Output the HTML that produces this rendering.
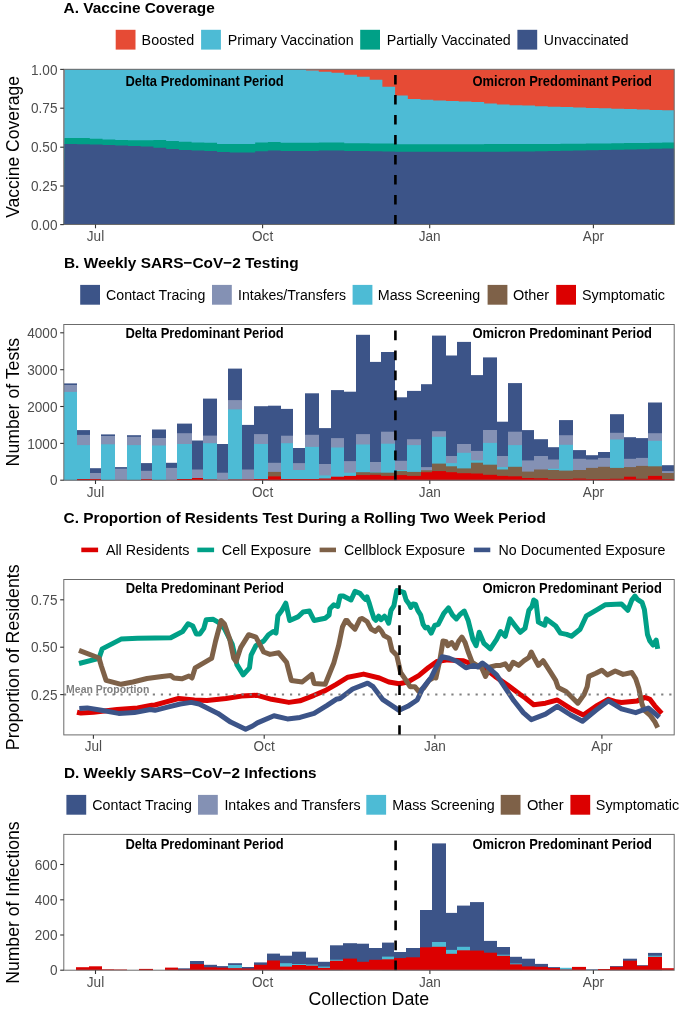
<!DOCTYPE html>
<html><head><meta charset="utf-8"><title>Figure</title>
<style>
html,body{margin:0;padding:0;background:#fff;}
body{width:685px;height:1016px;overflow:hidden;}
svg{display:block;will-change:transform;}
text{font-family:"Liberation Sans", sans-serif;}
</style></head><body>
<svg width="685" height="1016" viewBox="0 0 685 1016">
<rect x="0" y="0" width="685" height="1016" fill="#fff"/>
<text transform="translate(63.60 12.80) scale(1 1.0)" x="0" y="0" font-size="15.3" font-weight="bold" fill="#000" text-anchor="start" textLength="151.2" lengthAdjust="spacingAndGlyphs">A. Vaccine Coverage</text>
<rect x="115.70" y="29.80" width="19.80" height="19.80" fill="#E64B35"/>
<text transform="translate(141.60 45.00) scale(1 1.04)" x="0" y="0" font-size="13.9" font-weight="normal" fill="#000" text-anchor="start" textLength="52.699999999999996" lengthAdjust="spacingAndGlyphs">Boosted</text>
<rect x="201.10" y="29.80" width="19.80" height="19.80" fill="#4DBBD5"/>
<text transform="translate(227.70 45.00) scale(1 1.04)" x="0" y="0" font-size="13.9" font-weight="normal" fill="#000" text-anchor="start" textLength="125.89999999999999" lengthAdjust="spacingAndGlyphs">Primary Vaccination</text>
<rect x="360.20" y="29.80" width="19.80" height="19.80" fill="#00A087"/>
<text transform="translate(386.80 45.00) scale(1 1.04)" x="0" y="0" font-size="13.9" font-weight="normal" fill="#000" text-anchor="start" textLength="124.0" lengthAdjust="spacingAndGlyphs">Partially Vaccinated</text>
<rect x="517.40" y="29.80" width="19.80" height="19.80" fill="#3C5488"/>
<text transform="translate(543.80 45.00) scale(1 1.04)" x="0" y="0" font-size="13.9" font-weight="normal" fill="#000" text-anchor="start" textLength="84.8" lengthAdjust="spacingAndGlyphs">Unvaccinated</text>
<rect x="63.80" y="69.30" width="610.40" height="155.20" fill="#E64B35"/>
<path d="M63.80,224.50 L64.38,69.30 L77.10,69.30 L77.10,69.30 L89.82,69.30 L89.82,69.30 L102.54,69.30 L102.54,69.30 L115.26,69.30 L115.26,69.30 L127.98,69.30 L127.98,69.30 L140.70,69.30 L140.70,69.30 L153.42,69.30 L153.42,69.30 L166.14,69.30 L166.14,69.30 L178.86,69.30 L178.86,69.30 L191.58,69.30 L191.58,69.30 L204.30,69.30 L204.30,69.30 L217.02,69.30 L217.02,69.30 L229.74,69.30 L229.74,69.30 L242.46,69.30 L242.46,69.30 L255.18,69.30 L255.18,69.30 L267.90,69.30 L267.90,69.30 L280.62,69.30 L280.62,69.30 L293.34,69.30 L293.34,69.30 L306.06,69.30 L306.06,70.50 L318.78,70.50 L318.78,71.70 L331.50,71.70 L331.50,72.80 L344.22,72.80 L344.22,74.80 L356.94,74.80 L356.94,76.70 L369.66,76.70 L369.66,79.80 L382.38,79.80 L382.38,86.80 L395.10,86.80 L395.10,95.40 L407.82,95.40 L407.82,98.90 L420.54,98.90 L420.54,99.70 L433.26,99.70 L433.26,100.50 L445.98,100.50 L445.98,101.00 L458.70,101.00 L458.70,101.40 L471.42,101.40 L471.42,102.00 L484.14,102.00 L484.14,103.40 L496.86,103.40 L496.86,104.60 L509.58,104.60 L509.58,105.20 L522.30,105.20 L522.30,105.60 L535.02,105.60 L535.02,106.30 L547.74,106.30 L547.74,106.70 L560.46,106.70 L560.46,107.10 L573.18,107.10 L573.18,107.50 L585.90,107.50 L585.90,107.90 L598.62,107.90 L598.62,108.30 L611.34,108.30 L611.34,108.70 L624.06,108.70 L624.06,109.10 L636.78,109.10 L636.78,109.50 L649.50,109.50 L649.50,109.90 L662.22,109.90 L662.22,110.30 L674.20,110.30 L674.20,224.50 Z" fill="#4DBBD5"/>
<path d="M63.80,224.50 L64.38,138.00 L77.10,138.00 L77.10,138.00 L89.82,138.00 L89.82,138.80 L102.54,138.80 L102.54,139.50 L115.26,139.50 L115.26,139.90 L127.98,139.90 L127.98,140.20 L140.70,140.20 L140.70,140.20 L153.42,140.20 L153.42,140.10 L166.14,140.10 L166.14,140.90 L178.86,140.90 L178.86,141.70 L191.58,141.70 L191.58,142.40 L204.30,142.40 L204.30,142.80 L217.02,142.80 L217.02,144.00 L229.74,144.00 L229.74,144.10 L242.46,144.10 L242.46,144.10 L255.18,144.10 L255.18,142.50 L267.90,142.50 L267.90,142.00 L280.62,142.00 L280.62,142.80 L293.34,142.80 L293.34,142.80 L306.06,142.80 L306.06,142.80 L318.78,142.80 L318.78,142.50 L331.50,142.50 L331.50,142.40 L344.22,142.40 L344.22,143.20 L356.94,143.20 L356.94,143.20 L369.66,143.20 L369.66,143.50 L382.38,143.50 L382.38,143.50 L395.10,143.50 L395.10,144.30 L407.82,144.30 L407.82,144.30 L420.54,144.30 L420.54,144.30 L433.26,144.30 L433.26,144.30 L445.98,144.30 L445.98,144.30 L458.70,144.30 L458.70,144.30 L471.42,144.30 L471.42,144.30 L484.14,144.30 L484.14,144.10 L496.86,144.10 L496.86,144.10 L509.58,144.10 L509.58,144.10 L522.30,144.10 L522.30,144.10 L535.02,144.10 L535.02,144.10 L547.74,144.10 L547.74,144.00 L560.46,144.00 L560.46,143.84 L573.18,143.84 L573.18,143.69 L585.90,143.69 L585.90,143.53 L598.62,143.53 L598.62,143.38 L611.34,143.38 L611.34,143.22 L624.06,143.22 L624.06,143.07 L636.78,143.07 L636.78,142.91 L649.50,142.91 L649.50,142.76 L662.22,142.76 L662.22,142.60 L674.20,142.60 L674.20,224.50 Z" fill="#00A087"/>
<path d="M63.80,224.50 L64.38,143.90 L77.10,143.90 L77.10,144.20 L89.82,144.20 L89.82,144.60 L102.54,144.60 L102.54,145.00 L115.26,145.00 L115.26,145.60 L127.98,145.60 L127.98,146.00 L140.70,146.00 L140.70,146.40 L153.42,146.40 L153.42,147.70 L166.14,147.70 L166.14,148.90 L178.86,148.90 L178.86,150.00 L191.58,150.00 L191.58,150.60 L204.30,150.60 L204.30,150.90 L217.02,150.90 L217.02,152.00 L229.74,152.00 L229.74,152.50 L242.46,152.50 L242.46,152.50 L255.18,152.50 L255.18,151.20 L267.90,151.20 L267.90,150.40 L280.62,150.40 L280.62,150.90 L293.34,150.90 L293.34,150.90 L306.06,150.90 L306.06,150.90 L318.78,150.90 L318.78,150.60 L331.50,150.60 L331.50,150.60 L344.22,150.60 L344.22,150.90 L356.94,150.90 L356.94,151.10 L369.66,151.10 L369.66,151.20 L382.38,151.20 L382.38,151.40 L395.10,151.40 L395.10,151.80 L407.82,151.80 L407.82,151.80 L420.54,151.80 L420.54,151.80 L433.26,151.80 L433.26,151.80 L445.98,151.80 L445.98,151.80 L458.70,151.80 L458.70,151.80 L471.42,151.80 L471.42,151.80 L484.14,151.80 L484.14,151.80 L496.86,151.80 L496.86,151.70 L509.58,151.70 L509.58,151.60 L522.30,151.60 L522.30,151.40 L535.02,151.40 L535.02,151.30 L547.74,151.30 L547.74,151.00 L560.46,151.00 L560.46,150.73 L573.18,150.73 L573.18,150.47 L585.90,150.47 L585.90,150.20 L598.62,150.20 L598.62,149.93 L611.34,149.93 L611.34,149.67 L624.06,149.67 L624.06,149.40 L636.78,149.40 L636.78,149.13 L649.50,149.13 L649.50,148.87 L662.22,148.87 L662.22,148.60 L674.20,148.60 L674.20,224.50 Z" fill="#3C5488"/>
<line x1="395.40" y1="224.50" x2="395.40" y2="69.30" stroke="#000" stroke-width="2.6" stroke-dasharray="9.6 10.4"/>
<text transform="translate(125.40 86.40) scale(1 1.08)" x="0" y="0" font-size="12.9" font-weight="bold" fill="#000" text-anchor="start" textLength="158.3" lengthAdjust="spacingAndGlyphs">Delta Predominant Period</text>
<text transform="translate(472.50 86.40) scale(1 1.08)" x="0" y="0" font-size="12.9" font-weight="bold" fill="#000" text-anchor="start" textLength="179.5" lengthAdjust="spacingAndGlyphs">Omicron Predominant Period</text>
<rect x="63.80" y="69.30" width="610.40" height="155.20" fill="none" stroke="#6b6b6b" stroke-width="1"/>
<line x1="60.20" y1="69.40" x2="63.80" y2="69.40" stroke="#333333" stroke-width="1.1"/>
<text transform="translate(57.50 74.60) scale(1 1.05)" x="0" y="0" font-size="13.6" font-weight="normal" fill="#4D4D4D" text-anchor="end">1.00</text>
<line x1="60.20" y1="108.20" x2="63.80" y2="108.20" stroke="#333333" stroke-width="1.1"/>
<text transform="translate(57.50 113.40) scale(1 1.05)" x="0" y="0" font-size="13.6" font-weight="normal" fill="#4D4D4D" text-anchor="end">0.75</text>
<line x1="60.20" y1="147.20" x2="63.80" y2="147.20" stroke="#333333" stroke-width="1.1"/>
<text transform="translate(57.50 152.40) scale(1 1.05)" x="0" y="0" font-size="13.6" font-weight="normal" fill="#4D4D4D" text-anchor="end">0.50</text>
<line x1="60.20" y1="186.00" x2="63.80" y2="186.00" stroke="#333333" stroke-width="1.1"/>
<text transform="translate(57.50 191.20) scale(1 1.05)" x="0" y="0" font-size="13.6" font-weight="normal" fill="#4D4D4D" text-anchor="end">0.25</text>
<line x1="60.20" y1="224.60" x2="63.80" y2="224.60" stroke="#333333" stroke-width="1.1"/>
<text transform="translate(57.50 229.80) scale(1 1.05)" x="0" y="0" font-size="13.6" font-weight="normal" fill="#4D4D4D" text-anchor="end">0.00</text>
<line x1="95.50" y1="224.50" x2="95.50" y2="228.30" stroke="#333333" stroke-width="1.1"/>
<text transform="translate(95.50 240.90) scale(1 1.05)" x="0" y="0" font-size="13.6" font-weight="normal" fill="#4D4D4D" text-anchor="middle">Jul</text>
<line x1="262.60" y1="224.50" x2="262.60" y2="228.30" stroke="#333333" stroke-width="1.1"/>
<text transform="translate(262.60 240.90) scale(1 1.05)" x="0" y="0" font-size="13.6" font-weight="normal" fill="#4D4D4D" text-anchor="middle">Oct</text>
<line x1="429.70" y1="224.50" x2="429.70" y2="228.30" stroke="#333333" stroke-width="1.1"/>
<text transform="translate(429.70 240.90) scale(1 1.05)" x="0" y="0" font-size="13.6" font-weight="normal" fill="#4D4D4D" text-anchor="middle">Jan</text>
<line x1="593.40" y1="224.50" x2="593.40" y2="228.30" stroke="#333333" stroke-width="1.1"/>
<text transform="translate(593.40 240.90) scale(1 1.05)" x="0" y="0" font-size="13.6" font-weight="normal" fill="#4D4D4D" text-anchor="middle">Apr</text>
<text transform="translate(19.1 146.95) rotate(-90) scale(1 1.05)" x="0" y="0" font-size="17.4" text-anchor="middle" fill="#000" textLength="141.8" lengthAdjust="spacingAndGlyphs">Vaccine Coverage</text>
<text transform="translate(64.00 268.10) scale(1 1.0)" x="0" y="0" font-size="15.3" font-weight="bold" fill="#000" text-anchor="start" textLength="234.6" lengthAdjust="spacingAndGlyphs">B. Weekly SARS&#8722;CoV&#8722;2 Testing</text>
<rect x="80.20" y="284.90" width="19.80" height="19.80" fill="#3C5488"/>
<text transform="translate(106.10 300.10) scale(1 1.04)" x="0" y="0" font-size="13.9" font-weight="normal" fill="#000" text-anchor="start" textLength="99.2" lengthAdjust="spacingAndGlyphs">Contact Tracing</text>
<rect x="212.00" y="284.90" width="19.80" height="19.80" fill="#8491B4"/>
<text transform="translate(238.00 300.10) scale(1 1.04)" x="0" y="0" font-size="13.9" font-weight="normal" fill="#000" text-anchor="start" textLength="108.1" lengthAdjust="spacingAndGlyphs">Intakes/Transfers</text>
<rect x="352.60" y="284.90" width="19.80" height="19.80" fill="#4DBBD5"/>
<text transform="translate(377.80 300.10) scale(1 1.04)" x="0" y="0" font-size="13.9" font-weight="normal" fill="#000" text-anchor="start" textLength="102.3" lengthAdjust="spacingAndGlyphs">Mass Screening</text>
<rect x="487.60" y="284.90" width="19.80" height="19.80" fill="#7E6148"/>
<text transform="translate(513.00 300.10) scale(1 1.04)" x="0" y="0" font-size="13.9" font-weight="normal" fill="#000" text-anchor="start" textLength="36.199999999999996" lengthAdjust="spacingAndGlyphs">Other</text>
<rect x="556.20" y="284.90" width="19.80" height="19.80" fill="#DC0000"/>
<text transform="translate(582.00 300.10) scale(1 1.04)" x="0" y="0" font-size="13.9" font-weight="normal" fill="#000" text-anchor="start" textLength="83.0" lengthAdjust="spacingAndGlyphs">Symptomatic</text>
<rect x="64.00" y="383.40" width="13.00" height="96.80" fill="#3C5488"/>
<rect x="64.00" y="385.00" width="13.00" height="95.20" fill="#8491B4"/>
<rect x="64.00" y="391.90" width="13.00" height="88.30" fill="#4DBBD5"/>
<rect x="77.00" y="430.10" width="13.00" height="50.10" fill="#3C5488"/>
<rect x="77.00" y="434.90" width="13.00" height="45.30" fill="#8491B4"/>
<rect x="77.00" y="445.10" width="13.00" height="35.10" fill="#4DBBD5"/>
<rect x="77.00" y="479.00" width="13.00" height="1.20" fill="#DC0000"/>
<rect x="90.00" y="468.20" width="11.00" height="12.00" fill="#3C5488"/>
<rect x="90.00" y="473.00" width="11.00" height="7.20" fill="#8491B4"/>
<rect x="90.00" y="479.00" width="11.00" height="1.20" fill="#DC0000"/>
<rect x="101.00" y="434.40" width="14.00" height="45.80" fill="#3C5488"/>
<rect x="101.00" y="436.00" width="14.00" height="44.20" fill="#8491B4"/>
<rect x="101.00" y="444.30" width="14.00" height="35.90" fill="#4DBBD5"/>
<rect x="101.00" y="480.00" width="14.00" height="0.20" fill="#DC0000"/>
<rect x="115.00" y="467.10" width="12.00" height="13.10" fill="#3C5488"/>
<rect x="115.00" y="468.70" width="12.00" height="11.50" fill="#8491B4"/>
<rect x="115.00" y="480.00" width="12.00" height="0.20" fill="#DC0000"/>
<rect x="127.00" y="435.20" width="14.00" height="45.00" fill="#3C5488"/>
<rect x="127.00" y="436.80" width="14.00" height="43.40" fill="#8491B4"/>
<rect x="127.00" y="445.10" width="14.00" height="35.10" fill="#4DBBD5"/>
<rect x="127.00" y="480.00" width="14.00" height="0.20" fill="#DC0000"/>
<rect x="141.00" y="463.10" width="11.00" height="17.10" fill="#3C5488"/>
<rect x="141.00" y="470.80" width="11.00" height="9.40" fill="#8491B4"/>
<rect x="141.00" y="479.20" width="11.00" height="1.00" fill="#DC0000"/>
<rect x="152.00" y="429.50" width="14.00" height="50.70" fill="#3C5488"/>
<rect x="152.00" y="438.00" width="14.00" height="42.20" fill="#8491B4"/>
<rect x="152.00" y="445.50" width="14.00" height="34.70" fill="#4DBBD5"/>
<rect x="152.00" y="480.00" width="14.00" height="0.20" fill="#DC0000"/>
<rect x="166.00" y="462.80" width="11.00" height="17.40" fill="#3C5488"/>
<rect x="166.00" y="467.90" width="11.00" height="12.30" fill="#8491B4"/>
<rect x="166.00" y="480.00" width="11.00" height="0.20" fill="#DC0000"/>
<rect x="177.00" y="423.60" width="15.00" height="56.60" fill="#3C5488"/>
<rect x="177.00" y="433.20" width="15.00" height="47.00" fill="#8491B4"/>
<rect x="177.00" y="444.00" width="15.00" height="36.20" fill="#4DBBD5"/>
<rect x="177.00" y="479.00" width="15.00" height="1.20" fill="#DC0000"/>
<rect x="192.00" y="440.50" width="11.00" height="39.70" fill="#3C5488"/>
<rect x="192.00" y="469.50" width="11.00" height="10.70" fill="#8491B4"/>
<rect x="192.00" y="478.00" width="11.00" height="2.20" fill="#DC0000"/>
<rect x="203.00" y="398.60" width="14.00" height="81.60" fill="#3C5488"/>
<rect x="203.00" y="435.60" width="14.00" height="44.60" fill="#8491B4"/>
<rect x="203.00" y="443.20" width="14.00" height="37.00" fill="#4DBBD5"/>
<rect x="203.00" y="479.50" width="14.00" height="0.70" fill="#DC0000"/>
<rect x="217.00" y="444.00" width="11.00" height="36.20" fill="#3C5488"/>
<rect x="217.00" y="472.70" width="11.00" height="7.50" fill="#8491B4"/>
<rect x="217.00" y="480.00" width="11.00" height="0.20" fill="#DC0000"/>
<rect x="228.00" y="368.60" width="14.00" height="111.60" fill="#3C5488"/>
<rect x="228.00" y="400.10" width="14.00" height="80.10" fill="#8491B4"/>
<rect x="228.00" y="409.40" width="14.00" height="70.80" fill="#4DBBD5"/>
<rect x="228.00" y="479.50" width="14.00" height="0.70" fill="#DC0000"/>
<rect x="242.00" y="424.90" width="12.00" height="55.30" fill="#3C5488"/>
<rect x="242.00" y="469.50" width="12.00" height="10.70" fill="#8491B4"/>
<rect x="242.00" y="479.50" width="12.00" height="0.70" fill="#DC0000"/>
<rect x="254.00" y="406.20" width="14.00" height="74.00" fill="#3C5488"/>
<rect x="254.00" y="434.10" width="14.00" height="46.10" fill="#8491B4"/>
<rect x="254.00" y="444.00" width="14.00" height="36.20" fill="#4DBBD5"/>
<rect x="254.00" y="479.00" width="14.00" height="1.20" fill="#DC0000"/>
<rect x="268.00" y="405.70" width="13.00" height="74.50" fill="#3C5488"/>
<rect x="268.00" y="462.80" width="13.00" height="17.40" fill="#8491B4"/>
<rect x="268.00" y="471.90" width="13.00" height="8.30" fill="#7E6148"/>
<rect x="268.00" y="476.40" width="13.00" height="3.80" fill="#DC0000"/>
<rect x="281.00" y="408.90" width="12.00" height="71.30" fill="#3C5488"/>
<rect x="281.00" y="435.70" width="12.00" height="44.50" fill="#8491B4"/>
<rect x="281.00" y="443.20" width="12.00" height="37.00" fill="#4DBBD5"/>
<rect x="281.00" y="479.00" width="12.00" height="1.20" fill="#DC0000"/>
<rect x="293.00" y="448.00" width="12.00" height="32.20" fill="#3C5488"/>
<rect x="293.00" y="463.10" width="12.00" height="17.10" fill="#8491B4"/>
<rect x="293.00" y="470.00" width="12.00" height="10.20" fill="#4DBBD5"/>
<rect x="293.00" y="479.00" width="12.00" height="1.20" fill="#DC0000"/>
<rect x="305.00" y="393.30" width="14.00" height="86.90" fill="#3C5488"/>
<rect x="305.00" y="434.80" width="14.00" height="45.40" fill="#8491B4"/>
<rect x="305.00" y="446.90" width="14.00" height="33.30" fill="#4DBBD5"/>
<rect x="305.00" y="479.00" width="14.00" height="1.20" fill="#DC0000"/>
<rect x="319.00" y="428.10" width="12.00" height="52.10" fill="#3C5488"/>
<rect x="319.00" y="464.00" width="12.00" height="16.20" fill="#8491B4"/>
<rect x="319.00" y="475.40" width="12.00" height="4.80" fill="#4DBBD5"/>
<rect x="319.00" y="478.50" width="12.00" height="1.70" fill="#DC0000"/>
<rect x="331.00" y="390.10" width="13.00" height="90.10" fill="#3C5488"/>
<rect x="331.00" y="438.10" width="13.00" height="42.10" fill="#8491B4"/>
<rect x="331.00" y="447.50" width="13.00" height="32.70" fill="#4DBBD5"/>
<rect x="331.00" y="476.70" width="13.00" height="3.50" fill="#DC0000"/>
<rect x="344.00" y="391.70" width="12.00" height="88.50" fill="#3C5488"/>
<rect x="344.00" y="461.10" width="12.00" height="19.10" fill="#8491B4"/>
<rect x="344.00" y="472.70" width="12.00" height="7.50" fill="#4DBBD5"/>
<rect x="344.00" y="475.90" width="12.00" height="4.30" fill="#DC0000"/>
<rect x="356.00" y="334.80" width="14.00" height="145.40" fill="#3C5488"/>
<rect x="356.00" y="434.10" width="14.00" height="46.10" fill="#8491B4"/>
<rect x="356.00" y="444.50" width="14.00" height="35.70" fill="#4DBBD5"/>
<rect x="356.00" y="472.20" width="14.00" height="8.00" fill="#7E6148"/>
<rect x="356.00" y="475.10" width="14.00" height="5.10" fill="#DC0000"/>
<rect x="370.00" y="361.90" width="11.00" height="118.30" fill="#3C5488"/>
<rect x="370.00" y="462.00" width="11.00" height="18.20" fill="#8491B4"/>
<rect x="370.00" y="471.90" width="11.00" height="8.30" fill="#4DBBD5"/>
<rect x="370.00" y="472.50" width="11.00" height="7.70" fill="#7E6148"/>
<rect x="370.00" y="474.80" width="11.00" height="5.40" fill="#DC0000"/>
<rect x="381.00" y="352.00" width="14.00" height="128.20" fill="#3C5488"/>
<rect x="381.00" y="431.70" width="14.00" height="48.50" fill="#8491B4"/>
<rect x="381.00" y="443.70" width="14.00" height="36.50" fill="#4DBBD5"/>
<rect x="381.00" y="472.70" width="14.00" height="7.50" fill="#7E6148"/>
<rect x="381.00" y="475.90" width="14.00" height="4.30" fill="#DC0000"/>
<rect x="395.00" y="397.30" width="12.00" height="82.90" fill="#3C5488"/>
<rect x="395.00" y="460.80" width="12.00" height="19.40" fill="#8491B4"/>
<rect x="395.00" y="470.00" width="12.00" height="10.20" fill="#4DBBD5"/>
<rect x="395.00" y="471.10" width="12.00" height="9.10" fill="#7E6148"/>
<rect x="395.00" y="475.10" width="12.00" height="5.10" fill="#DC0000"/>
<rect x="407.00" y="390.90" width="14.00" height="89.30" fill="#3C5488"/>
<rect x="407.00" y="439.20" width="14.00" height="41.00" fill="#8491B4"/>
<rect x="407.00" y="445.10" width="14.00" height="35.10" fill="#4DBBD5"/>
<rect x="407.00" y="471.90" width="14.00" height="8.30" fill="#7E6148"/>
<rect x="407.00" y="475.90" width="14.00" height="4.30" fill="#DC0000"/>
<rect x="421.00" y="384.20" width="11.00" height="96.00" fill="#3C5488"/>
<rect x="421.00" y="467.10" width="11.00" height="13.10" fill="#8491B4"/>
<rect x="421.00" y="470.30" width="11.00" height="9.90" fill="#7E6148"/>
<rect x="421.00" y="472.20" width="11.00" height="8.00" fill="#DC0000"/>
<rect x="432.00" y="335.60" width="14.00" height="144.60" fill="#3C5488"/>
<rect x="432.00" y="431.20" width="14.00" height="49.00" fill="#8491B4"/>
<rect x="432.00" y="436.80" width="14.00" height="43.40" fill="#4DBBD5"/>
<rect x="432.00" y="463.60" width="14.00" height="16.60" fill="#7E6148"/>
<rect x="432.00" y="471.10" width="14.00" height="9.10" fill="#DC0000"/>
<rect x="446.00" y="355.50" width="11.00" height="124.70" fill="#3C5488"/>
<rect x="446.00" y="456.00" width="11.00" height="24.20" fill="#8491B4"/>
<rect x="446.00" y="463.10" width="11.00" height="17.10" fill="#4DBBD5"/>
<rect x="446.00" y="466.30" width="11.00" height="13.90" fill="#7E6148"/>
<rect x="446.00" y="472.20" width="11.00" height="8.00" fill="#DC0000"/>
<rect x="457.00" y="341.90" width="14.00" height="138.30" fill="#3C5488"/>
<rect x="457.00" y="444.00" width="14.00" height="36.20" fill="#8491B4"/>
<rect x="457.00" y="452.80" width="14.00" height="27.40" fill="#4DBBD5"/>
<rect x="457.00" y="468.40" width="14.00" height="11.80" fill="#7E6148"/>
<rect x="457.00" y="473.20" width="14.00" height="7.00" fill="#DC0000"/>
<rect x="471.00" y="375.10" width="12.00" height="105.10" fill="#3C5488"/>
<rect x="471.00" y="450.90" width="12.00" height="29.30" fill="#8491B4"/>
<rect x="471.00" y="460.40" width="12.00" height="19.80" fill="#4DBBD5"/>
<rect x="471.00" y="462.70" width="12.00" height="17.50" fill="#7E6148"/>
<rect x="471.00" y="473.50" width="12.00" height="6.70" fill="#DC0000"/>
<rect x="483.00" y="357.40" width="14.00" height="122.80" fill="#3C5488"/>
<rect x="483.00" y="430.00" width="14.00" height="50.20" fill="#8491B4"/>
<rect x="483.00" y="442.90" width="14.00" height="37.30" fill="#4DBBD5"/>
<rect x="483.00" y="464.70" width="14.00" height="15.50" fill="#7E6148"/>
<rect x="483.00" y="474.80" width="14.00" height="5.40" fill="#DC0000"/>
<rect x="497.00" y="421.70" width="11.00" height="58.50" fill="#3C5488"/>
<rect x="497.00" y="456.00" width="11.00" height="24.20" fill="#8491B4"/>
<rect x="497.00" y="467.10" width="11.00" height="13.10" fill="#4DBBD5"/>
<rect x="497.00" y="469.50" width="11.00" height="10.70" fill="#7E6148"/>
<rect x="497.00" y="475.90" width="11.00" height="4.30" fill="#DC0000"/>
<rect x="508.00" y="383.10" width="14.00" height="97.10" fill="#3C5488"/>
<rect x="508.00" y="431.70" width="14.00" height="48.50" fill="#8491B4"/>
<rect x="508.00" y="445.10" width="14.00" height="35.10" fill="#4DBBD5"/>
<rect x="508.00" y="466.80" width="14.00" height="13.40" fill="#7E6148"/>
<rect x="508.00" y="476.30" width="14.00" height="3.90" fill="#DC0000"/>
<rect x="522.00" y="430.10" width="12.00" height="50.10" fill="#3C5488"/>
<rect x="522.00" y="460.40" width="12.00" height="19.80" fill="#8491B4"/>
<rect x="522.00" y="471.60" width="12.00" height="8.60" fill="#7E6148"/>
<rect x="522.00" y="478.00" width="12.00" height="2.20" fill="#DC0000"/>
<rect x="534.00" y="439.20" width="14.00" height="41.00" fill="#3C5488"/>
<rect x="534.00" y="456.00" width="14.00" height="24.20" fill="#8491B4"/>
<rect x="534.00" y="469.50" width="14.00" height="10.70" fill="#7E6148"/>
<rect x="534.00" y="478.30" width="14.00" height="1.90" fill="#DC0000"/>
<rect x="548.00" y="447.20" width="11.00" height="33.00" fill="#3C5488"/>
<rect x="548.00" y="459.50" width="11.00" height="20.70" fill="#8491B4"/>
<rect x="548.00" y="468.70" width="11.00" height="11.50" fill="#4DBBD5"/>
<rect x="548.00" y="470.00" width="11.00" height="10.20" fill="#7E6148"/>
<rect x="548.00" y="479.10" width="11.00" height="1.10" fill="#DC0000"/>
<rect x="559.00" y="420.10" width="14.00" height="60.10" fill="#3C5488"/>
<rect x="559.00" y="435.20" width="14.00" height="45.00" fill="#8491B4"/>
<rect x="559.00" y="444.80" width="14.00" height="35.40" fill="#4DBBD5"/>
<rect x="559.00" y="470.60" width="14.00" height="9.60" fill="#7E6148"/>
<rect x="559.00" y="479.00" width="14.00" height="1.20" fill="#DC0000"/>
<rect x="573.00" y="450.10" width="13.00" height="30.10" fill="#3C5488"/>
<rect x="573.00" y="458.80" width="13.00" height="21.40" fill="#8491B4"/>
<rect x="573.00" y="470.00" width="13.00" height="10.20" fill="#7E6148"/>
<rect x="573.00" y="478.60" width="13.00" height="1.60" fill="#DC0000"/>
<rect x="586.00" y="455.20" width="12.00" height="25.00" fill="#3C5488"/>
<rect x="586.00" y="459.50" width="12.00" height="20.70" fill="#8491B4"/>
<rect x="586.00" y="467.90" width="12.00" height="12.30" fill="#7E6148"/>
<rect x="586.00" y="479.10" width="12.00" height="1.10" fill="#DC0000"/>
<rect x="598.00" y="452.00" width="12.00" height="28.20" fill="#3C5488"/>
<rect x="598.00" y="457.90" width="12.00" height="22.30" fill="#8491B4"/>
<rect x="598.00" y="466.80" width="12.00" height="13.40" fill="#7E6148"/>
<rect x="598.00" y="479.00" width="12.00" height="1.20" fill="#DC0000"/>
<rect x="610.00" y="414.20" width="14.00" height="66.00" fill="#3C5488"/>
<rect x="610.00" y="432.80" width="14.00" height="47.40" fill="#8491B4"/>
<rect x="610.00" y="439.50" width="14.00" height="40.70" fill="#4DBBD5"/>
<rect x="610.00" y="467.90" width="14.00" height="12.30" fill="#7E6148"/>
<rect x="610.00" y="478.80" width="14.00" height="1.40" fill="#DC0000"/>
<rect x="624.00" y="437.20" width="12.00" height="43.00" fill="#3C5488"/>
<rect x="624.00" y="458.80" width="12.00" height="21.40" fill="#8491B4"/>
<rect x="624.00" y="467.10" width="12.00" height="13.10" fill="#7E6148"/>
<rect x="624.00" y="476.70" width="12.00" height="3.50" fill="#DC0000"/>
<rect x="636.00" y="438.10" width="12.00" height="42.10" fill="#3C5488"/>
<rect x="636.00" y="457.90" width="12.00" height="22.30" fill="#8491B4"/>
<rect x="636.00" y="465.90" width="12.00" height="14.30" fill="#7E6148"/>
<rect x="636.00" y="478.80" width="12.00" height="1.40" fill="#DC0000"/>
<rect x="648.00" y="402.50" width="14.00" height="77.70" fill="#3C5488"/>
<rect x="648.00" y="433.20" width="14.00" height="47.00" fill="#8491B4"/>
<rect x="648.00" y="440.80" width="14.00" height="39.40" fill="#4DBBD5"/>
<rect x="648.00" y="466.30" width="14.00" height="13.90" fill="#7E6148"/>
<rect x="648.00" y="475.90" width="14.00" height="4.30" fill="#DC0000"/>
<rect x="662.00" y="465.20" width="12.00" height="15.00" fill="#3C5488"/>
<rect x="662.00" y="471.10" width="12.00" height="9.10" fill="#8491B4"/>
<rect x="662.00" y="473.00" width="12.00" height="7.20" fill="#7E6148"/>
<rect x="662.00" y="479.10" width="12.00" height="1.10" fill="#DC0000"/>
<line x1="395.40" y1="480.20" x2="395.40" y2="324.50" stroke="#000" stroke-width="2.6" stroke-dasharray="9.6 10.4"/>
<text transform="translate(125.40 338.00) scale(1 1.08)" x="0" y="0" font-size="12.9" font-weight="bold" fill="#000" text-anchor="start" textLength="158.3" lengthAdjust="spacingAndGlyphs">Delta Predominant Period</text>
<text transform="translate(472.50 338.00) scale(1 1.08)" x="0" y="0" font-size="12.9" font-weight="bold" fill="#000" text-anchor="start" textLength="179.5" lengthAdjust="spacingAndGlyphs">Omicron Predominant Period</text>
<rect x="63.80" y="324.50" width="610.40" height="155.70" fill="none" stroke="#6b6b6b" stroke-width="1"/>
<line x1="60.20" y1="332.80" x2="63.80" y2="332.80" stroke="#333333" stroke-width="1.1"/>
<text transform="translate(57.50 338.00) scale(1 1.05)" x="0" y="0" font-size="13.6" font-weight="normal" fill="#4D4D4D" text-anchor="end">4000</text>
<line x1="60.20" y1="369.70" x2="63.80" y2="369.70" stroke="#333333" stroke-width="1.1"/>
<text transform="translate(57.50 374.90) scale(1 1.05)" x="0" y="0" font-size="13.6" font-weight="normal" fill="#4D4D4D" text-anchor="end">3000</text>
<line x1="60.20" y1="406.50" x2="63.80" y2="406.50" stroke="#333333" stroke-width="1.1"/>
<text transform="translate(57.50 411.70) scale(1 1.05)" x="0" y="0" font-size="13.6" font-weight="normal" fill="#4D4D4D" text-anchor="end">2000</text>
<line x1="60.20" y1="443.40" x2="63.80" y2="443.40" stroke="#333333" stroke-width="1.1"/>
<text transform="translate(57.50 448.60) scale(1 1.05)" x="0" y="0" font-size="13.6" font-weight="normal" fill="#4D4D4D" text-anchor="end">1000</text>
<line x1="60.20" y1="480.20" x2="63.80" y2="480.20" stroke="#333333" stroke-width="1.1"/>
<text transform="translate(57.50 485.40) scale(1 1.05)" x="0" y="0" font-size="13.6" font-weight="normal" fill="#4D4D4D" text-anchor="end">0</text>
<line x1="95.50" y1="480.20" x2="95.50" y2="484.00" stroke="#333333" stroke-width="1.1"/>
<text transform="translate(95.50 496.60) scale(1 1.05)" x="0" y="0" font-size="13.6" font-weight="normal" fill="#4D4D4D" text-anchor="middle">Jul</text>
<line x1="262.60" y1="480.20" x2="262.60" y2="484.00" stroke="#333333" stroke-width="1.1"/>
<text transform="translate(262.60 496.60) scale(1 1.05)" x="0" y="0" font-size="13.6" font-weight="normal" fill="#4D4D4D" text-anchor="middle">Oct</text>
<line x1="429.80" y1="480.20" x2="429.80" y2="484.00" stroke="#333333" stroke-width="1.1"/>
<text transform="translate(429.80 496.60) scale(1 1.05)" x="0" y="0" font-size="13.6" font-weight="normal" fill="#4D4D4D" text-anchor="middle">Jan</text>
<line x1="593.40" y1="480.20" x2="593.40" y2="484.00" stroke="#333333" stroke-width="1.1"/>
<text transform="translate(593.40 496.60) scale(1 1.05)" x="0" y="0" font-size="13.6" font-weight="normal" fill="#4D4D4D" text-anchor="middle">Apr</text>
<text transform="translate(19.1 402.20) rotate(-90) scale(1 1.05)" x="0" y="0" font-size="17.4" text-anchor="middle" fill="#000" textLength="128.4" lengthAdjust="spacingAndGlyphs">Number of Tests</text>
<text transform="translate(63.60 523.00) scale(1 1.0)" x="0" y="0" font-size="15.3" font-weight="bold" fill="#000" text-anchor="start" textLength="482.2" lengthAdjust="spacingAndGlyphs">C. Proportion of Residents Test During a Rolling Two Week Period</text>
<line x1="81.30" y1="549.90" x2="98.10" y2="549.90" stroke="#DC0000" stroke-width="4.6"/>
<text transform="translate(105.90 554.90) scale(1 1.04)" x="0" y="0" font-size="13.9" font-weight="normal" fill="#000" text-anchor="start" textLength="83.5" lengthAdjust="spacingAndGlyphs">All Residents</text>
<line x1="197.30" y1="549.90" x2="214.10" y2="549.90" stroke="#00A087" stroke-width="4.6"/>
<text transform="translate(221.80 554.90) scale(1 1.04)" x="0" y="0" font-size="13.9" font-weight="normal" fill="#000" text-anchor="start" textLength="89.39999999999999" lengthAdjust="spacingAndGlyphs">Cell Exposure</text>
<line x1="319.60" y1="549.90" x2="336.00" y2="549.90" stroke="#7E6148" stroke-width="4.6"/>
<text transform="translate(344.10 554.90) scale(1 1.04)" x="0" y="0" font-size="13.9" font-weight="normal" fill="#000" text-anchor="start" textLength="121.0" lengthAdjust="spacingAndGlyphs">Cellblock Exposure</text>
<line x1="473.90" y1="549.90" x2="490.30" y2="549.90" stroke="#3C5488" stroke-width="4.6"/>
<text transform="translate(498.60 554.90) scale(1 1.04)" x="0" y="0" font-size="13.9" font-weight="normal" fill="#000" text-anchor="start" textLength="166.70000000000002" lengthAdjust="spacingAndGlyphs">No Documented Exposure</text>
<clipPath id="cpC"><rect x="63.8" y="579.5" width="610.4000000000001" height="155.39999999999998"/></clipPath>
<g clip-path="url(#cpC)">
<polyline points="77.0,712.2 80.9,713.1 93.5,712.2 117.1,709.5 137.6,707.9 151.8,705.2 155.0,705.0 164.4,702.4 178.6,698.5 194.4,700.0 207.0,700.5 225.9,698.5 241.6,696.1 257.4,695.3 271.6,699.3 288.9,702.4 300.0,700.8 314.1,695.3 325.2,690.6 336.2,684.3 347.9,677.2 363.6,674.1 379.4,678.0 388.8,682.0 399.1,683.8 407.7,682.0 418.7,675.6 428.2,667.8 436.9,661.5 447.7,659.9 463.5,660.7 472.9,664.6 484.0,667.8 495.0,676.4 507.6,685.1 520.2,694.5 525.0,697.7 533.7,704.8 545.5,703.2 557.3,700.0 570.7,708.7 583.3,715.0 595.9,706.3 608.5,699.3 616.3,701.8 621.5,702.5 637.3,700.9 645.1,697.4 649.9,699.3 654.6,705.6 661.7,713.5" fill="none" stroke="#DC0000" stroke-width="5.0" stroke-linejoin="round" stroke-linecap="butt"/>
<polyline points="79.0,663.5 99.0,658.3 102.2,648.9 121.1,639.1 137.6,638.2 155.0,638.0 170.7,637.8 182.6,631.5 188.1,623.7 192.8,626.0 196.3,633.9 199.9,633.9 203.8,628.4 206.2,619.7 213.3,619.3 218.0,622.1 224.3,628.4 232.2,644.1 236.9,664.6 243.2,674.9 249.5,667.8 251.1,655.2 255.9,645.7 263.7,641.0 268.5,634.7 273.2,631.5 276.0,633.1 277.9,615.8 281.9,610.3 285.8,603.2 289.7,620.5 298.4,616.6 303.1,611.9 309.4,611.1 314.1,620.5 325.2,618.2 329.1,615.0 329.9,608.7 333.8,604.8 337.8,606.3 340.1,596.1 343.3,596.1 351.0,600.0 355.0,591.4 360.0,593.4 363.5,597.5 365.3,599.3 367.0,596.9 369.3,603.4 371.7,611.5 374.0,618.5 375.8,620.3 378.7,616.2 381.0,619.7 384.5,616.2 386.9,619.7 388.6,623.2 391.0,610.4 393.9,605.7 396.8,590.5 399.7,591.1 403.8,592.3 406.1,599.9 409.1,603.9 410.8,607.4 413.1,603.9 415.5,604.5 417.8,610.4 420.7,615.0 423.1,624.4 425.4,627.9 427.7,627.3 431.2,633.1 434.7,625.5 438.2,624.4 443.8,613.4 448.5,607.9 452.5,615.0 456.4,618.9 460.3,614.2 464.3,611.1 468.2,620.5 472.9,639.4 476.1,645.7 479.2,632.3 484.0,643.4 490.3,648.9 496.6,639.4 500.5,631.5 505.2,636.3 510.0,618.9 514.7,625.2 520.2,632.3 525.0,628.4 528.9,610.3 532.1,606.3 533.7,600.0 536.0,601.6 538.4,622.1 541.5,623.7 544.7,625.2 546.3,618.9 555.7,626.0 560.4,633.1 566.7,634.4 571.5,636.3 580.1,629.2 586.4,615.8 595.9,610.3 605.5,604.7 621.5,604.0 627.8,610.3 631.8,600.1 634.9,596.1 637.3,599.3 642.0,602.4 644.4,609.5 647.5,634.7 649.9,641.0 653.0,645.0 656.2,640.2 657.7,648.9" fill="none" stroke="#00A087" stroke-width="5.0" stroke-linejoin="round" stroke-linecap="butt"/>
<polyline points="79.0,650.4 99.0,658.0 101.4,666.2 106.1,680.4 121.1,684.3 132.9,682.0 147.0,678.5 162.0,676.4 170.7,675.6 173.9,678.0 181.8,678.8 188.9,676.0 192.0,678.0 195.2,667.8 209.3,659.6 211.7,658.3 215.6,641.0 221.1,620.5 224.3,623.7 229.8,639.4 233.7,658.3 236.1,661.5 240.8,647.3 248.7,634.7 255.9,637.1 263.7,652.0 270.0,654.4 278.7,652.8 286.6,662.3 291.3,680.4 302.3,681.9 311.8,674.4 314.1,683.5 325.2,684.3 333.8,663.0 338.6,645.7 342.5,626.8 345.6,620.5 347.1,620.5 349.4,623.7 355.0,629.2 360.0,619.1 362.3,618.5 367.0,621.5 371.1,629.0 375.2,631.4 378.7,627.9 381.6,631.4 383.9,635.5 389.2,638.4 392.0,650.4 396.7,655.2 400.6,672.5 406.1,680.4 410.1,686.7 414.8,686.7 418.7,691.4 423.5,688.2 429.0,680.4 434.5,677.2 435.9,678.0 439.9,659.9 443.0,641.0 446.2,641.8 447.7,645.7 451.7,642.6 455.6,648.1 458.8,641.0 461.9,637.1 465.1,642.6 468.2,652.0 472.2,662.3 476.9,665.4 481.6,667.8 485.5,676.4 490.3,667.0 496.6,665.4 500.5,665.4 505.2,663.8 509.2,669.3 513.1,662.3 518.6,665.4 524.1,660.7 528.9,657.5 531.3,652.0 534.4,658.3 538.4,665.4 543.1,660.7 550.2,671.7 555.7,680.4 558.1,687.4 566.0,691.4 569.9,695.3 577.8,703.2 584.1,694.5 587.2,686.7 588.8,676.4 595.9,673.3 601.8,670.2 607.3,674.9 615.2,671.0 623.1,674.4 631.8,672.5 635.7,678.8 638.8,688.3 642.0,704.0 644.4,710.3 649.9,715.1 654.6,721.4 657.7,727.7" fill="none" stroke="#7E6148" stroke-width="5.0" stroke-linejoin="round" stroke-linecap="butt"/>
<polyline points="79.3,708.4 87.2,707.9 101.4,710.3 118.7,713.4 134.4,712.6 150.2,709.5 155.0,710.3 167.6,707.1 180.2,704.0 191.2,702.4 199.1,704.0 218.0,713.4 230.6,722.1 245.6,729.2 252.6,726.0 257.4,722.9 274.0,715.8 287.4,718.9 300.0,717.4 314.1,713.4 326.7,705.6 336.2,699.3 340.0,698.5 352.6,689.0 367.6,683.2 373.1,686.7 382.5,699.3 399.1,710.3 407.7,706.3 417.2,700.0 422.7,688.2 431.3,677.2 436.7,666.2 442.2,656.7 449.3,658.3 457.2,661.5 465.9,667.8 473.7,665.4 477.7,667.0 482.4,663.0 488.7,667.8 496.6,674.9 504.4,686.7 513.9,700.8 523.3,712.6 531.3,719.7 545.5,714.2 557.3,706.3 570.7,715.0 582.5,721.3 595.9,710.3 608.5,700.8 621.5,708.8 635.7,712.7 648.3,708.0 653.0,711.9 659.3,717.4" fill="none" stroke="#3C5488" stroke-width="5.0" stroke-linejoin="round" stroke-linecap="butt"/>
</g>
<line x1="64.0" y1="694.5" x2="674.20" y2="694.5" stroke="#808080" stroke-width="2.2" stroke-dasharray="2.2 5.87"/>
<text transform="translate(66.10 692.60) scale(1 1.0)" x="0" y="0" font-size="11" font-weight="bold" fill="#808080" text-anchor="start" textLength="83.2" lengthAdjust="spacingAndGlyphs">Mean Proportion</text>
<line x1="399.50" y1="734.90" x2="399.50" y2="579.50" stroke="#000" stroke-width="2.6" stroke-dasharray="9.6 10.4"/>
<text transform="translate(125.70 593.40) scale(1 1.08)" x="0" y="0" font-size="12.9" font-weight="bold" fill="#000" text-anchor="start" textLength="158.3" lengthAdjust="spacingAndGlyphs">Delta Predominant Period</text>
<text transform="translate(482.40 593.40) scale(1 1.08)" x="0" y="0" font-size="12.9" font-weight="bold" fill="#000" text-anchor="start" textLength="179.5" lengthAdjust="spacingAndGlyphs">Omicron Predominant Period</text>
<rect x="63.80" y="579.50" width="610.40" height="155.40" fill="none" stroke="#6b6b6b" stroke-width="1"/>
<line x1="60.20" y1="599.80" x2="63.80" y2="599.80" stroke="#333333" stroke-width="1.1"/>
<text transform="translate(57.50 605.00) scale(1 1.05)" x="0" y="0" font-size="13.6" font-weight="normal" fill="#4D4D4D" text-anchor="end">0.75</text>
<line x1="60.20" y1="647.20" x2="63.80" y2="647.20" stroke="#333333" stroke-width="1.1"/>
<text transform="translate(57.50 652.40) scale(1 1.05)" x="0" y="0" font-size="13.6" font-weight="normal" fill="#4D4D4D" text-anchor="end">0.50</text>
<line x1="60.20" y1="694.60" x2="63.80" y2="694.60" stroke="#333333" stroke-width="1.1"/>
<text transform="translate(57.50 699.80) scale(1 1.05)" x="0" y="0" font-size="13.6" font-weight="normal" fill="#4D4D4D" text-anchor="end">0.25</text>
<line x1="93.40" y1="734.90" x2="93.40" y2="738.70" stroke="#333333" stroke-width="1.1"/>
<text transform="translate(93.40 751.30) scale(1 1.05)" x="0" y="0" font-size="13.6" font-weight="normal" fill="#4D4D4D" text-anchor="middle">Jul</text>
<line x1="264.20" y1="734.90" x2="264.20" y2="738.70" stroke="#333333" stroke-width="1.1"/>
<text transform="translate(264.20 751.30) scale(1 1.05)" x="0" y="0" font-size="13.6" font-weight="normal" fill="#4D4D4D" text-anchor="middle">Oct</text>
<line x1="434.90" y1="734.90" x2="434.90" y2="738.70" stroke="#333333" stroke-width="1.1"/>
<text transform="translate(434.90 751.30) scale(1 1.05)" x="0" y="0" font-size="13.6" font-weight="normal" fill="#4D4D4D" text-anchor="middle">Jan</text>
<line x1="601.90" y1="734.90" x2="601.90" y2="738.70" stroke="#333333" stroke-width="1.1"/>
<text transform="translate(601.90 751.30) scale(1 1.05)" x="0" y="0" font-size="13.6" font-weight="normal" fill="#4D4D4D" text-anchor="middle">Apr</text>
<text transform="translate(19.1 657.30) rotate(-90) scale(1 1.05)" x="0" y="0" font-size="17.4" text-anchor="middle" fill="#000" textLength="185.8" lengthAdjust="spacingAndGlyphs">Proportion of Residents</text>
<text transform="translate(64.00 778.10) scale(1 1.0)" x="0" y="0" font-size="15.3" font-weight="bold" fill="#000" text-anchor="start" textLength="252.6" lengthAdjust="spacingAndGlyphs">D. Weekly SARS&#8722;CoV&#8722;2 Infections</text>
<rect x="66.40" y="794.90" width="19.80" height="19.80" fill="#3C5488"/>
<text transform="translate(92.30 810.10) scale(1 1.04)" x="0" y="0" font-size="13.9" font-weight="normal" fill="#000" text-anchor="start" textLength="99.6" lengthAdjust="spacingAndGlyphs">Contact Tracing</text>
<rect x="198.00" y="794.90" width="19.80" height="19.80" fill="#8491B4"/>
<text transform="translate(224.40 810.10) scale(1 1.04)" x="0" y="0" font-size="13.9" font-weight="normal" fill="#000" text-anchor="start" textLength="136.10000000000002" lengthAdjust="spacingAndGlyphs">Intakes and Transfers</text>
<rect x="366.30" y="794.90" width="19.80" height="19.80" fill="#4DBBD5"/>
<text transform="translate(392.30 810.10) scale(1 1.04)" x="0" y="0" font-size="13.9" font-weight="normal" fill="#000" text-anchor="start" textLength="102.5" lengthAdjust="spacingAndGlyphs">Mass Screening</text>
<rect x="500.70" y="794.90" width="19.80" height="19.80" fill="#7E6148"/>
<text transform="translate(526.90 810.10) scale(1 1.04)" x="0" y="0" font-size="13.9" font-weight="normal" fill="#000" text-anchor="start" textLength="36.8" lengthAdjust="spacingAndGlyphs">Other</text>
<rect x="570.40" y="794.90" width="19.80" height="19.80" fill="#DC0000"/>
<text transform="translate(595.80 810.10) scale(1 1.04)" x="0" y="0" font-size="13.9" font-weight="normal" fill="#000" text-anchor="start" textLength="83.3" lengthAdjust="spacingAndGlyphs">Symptomatic</text>
<rect x="76.00" y="967.20" width="13.00" height="3.00" fill="#DC0000"/>
<rect x="89.00" y="966.30" width="13.00" height="3.90" fill="#DC0000"/>
<rect x="102.00" y="969.30" width="12.00" height="0.90" fill="#DC0000"/>
<rect x="114.00" y="969.50" width="13.00" height="0.70" fill="#DC0000"/>
<rect x="139.00" y="968.90" width="14.00" height="1.30" fill="#DC0000"/>
<rect x="165.00" y="967.60" width="13.00" height="2.60" fill="#DC0000"/>
<rect x="178.00" y="968.30" width="12.00" height="1.90" fill="#3C5488"/>
<rect x="178.00" y="969.50" width="12.00" height="0.70" fill="#DC0000"/>
<rect x="190.00" y="961.00" width="14.00" height="9.20" fill="#3C5488"/>
<rect x="190.00" y="964.10" width="14.00" height="6.10" fill="#DC0000"/>
<rect x="204.00" y="964.80" width="13.00" height="5.40" fill="#3C5488"/>
<rect x="204.00" y="967.30" width="13.00" height="2.90" fill="#DC0000"/>
<rect x="217.00" y="966.10" width="11.00" height="4.10" fill="#3C5488"/>
<rect x="217.00" y="967.70" width="11.00" height="2.50" fill="#DC0000"/>
<rect x="228.00" y="963.20" width="14.00" height="7.00" fill="#3C5488"/>
<rect x="228.00" y="965.00" width="14.00" height="5.20" fill="#4DBBD5"/>
<rect x="228.00" y="968.20" width="14.00" height="2.00" fill="#DC0000"/>
<rect x="242.00" y="967.00" width="12.00" height="3.20" fill="#3C5488"/>
<rect x="242.00" y="968.50" width="12.00" height="1.70" fill="#DC0000"/>
<rect x="254.00" y="962.40" width="13.00" height="7.80" fill="#3C5488"/>
<rect x="254.00" y="964.80" width="13.00" height="5.40" fill="#DC0000"/>
<rect x="267.00" y="953.60" width="13.00" height="16.60" fill="#3C5488"/>
<rect x="267.00" y="960.50" width="13.00" height="9.70" fill="#DC0000"/>
<rect x="280.00" y="955.70" width="12.00" height="14.50" fill="#3C5488"/>
<rect x="280.00" y="963.20" width="12.00" height="7.00" fill="#4DBBD5"/>
<rect x="280.00" y="966.60" width="12.00" height="3.60" fill="#DC0000"/>
<rect x="292.00" y="951.70" width="14.00" height="18.50" fill="#3C5488"/>
<rect x="292.00" y="964.00" width="14.00" height="6.20" fill="#4DBBD5"/>
<rect x="292.00" y="965.00" width="14.00" height="5.20" fill="#DC0000"/>
<rect x="306.00" y="957.60" width="12.00" height="12.60" fill="#3C5488"/>
<rect x="306.00" y="964.50" width="12.00" height="5.70" fill="#4DBBD5"/>
<rect x="306.00" y="965.70" width="12.00" height="4.50" fill="#DC0000"/>
<rect x="318.00" y="961.80" width="12.00" height="8.40" fill="#3C5488"/>
<rect x="318.00" y="966.60" width="12.00" height="3.60" fill="#4DBBD5"/>
<rect x="318.00" y="967.90" width="12.00" height="2.30" fill="#DC0000"/>
<rect x="330.00" y="945.30" width="13.00" height="24.90" fill="#3C5488"/>
<rect x="330.00" y="959.70" width="13.00" height="10.50" fill="#4DBBD5"/>
<rect x="330.00" y="960.80" width="13.00" height="9.40" fill="#DC0000"/>
<rect x="343.00" y="943.20" width="14.00" height="27.00" fill="#3C5488"/>
<rect x="343.00" y="958.60" width="14.00" height="11.60" fill="#DC0000"/>
<rect x="357.00" y="943.70" width="12.00" height="26.50" fill="#3C5488"/>
<rect x="357.00" y="961.80" width="12.00" height="8.40" fill="#DC0000"/>
<rect x="369.00" y="948.00" width="13.00" height="22.20" fill="#3C5488"/>
<rect x="369.00" y="959.80" width="13.00" height="10.40" fill="#DC0000"/>
<rect x="382.00" y="942.60" width="12.00" height="27.60" fill="#3C5488"/>
<rect x="382.00" y="956.60" width="12.00" height="13.60" fill="#4DBBD5"/>
<rect x="382.00" y="959.30" width="12.00" height="10.90" fill="#DC0000"/>
<rect x="394.00" y="952.00" width="12.00" height="18.20" fill="#3C5488"/>
<rect x="394.00" y="958.10" width="12.00" height="12.10" fill="#DC0000"/>
<rect x="406.00" y="948.00" width="14.00" height="22.20" fill="#3C5488"/>
<rect x="406.00" y="957.30" width="14.00" height="12.90" fill="#DC0000"/>
<rect x="420.00" y="910.00" width="12.00" height="60.20" fill="#3C5488"/>
<rect x="420.00" y="947.30" width="12.00" height="22.90" fill="#DC0000"/>
<rect x="432.00" y="843.40" width="14.00" height="126.80" fill="#3C5488"/>
<rect x="432.00" y="942.00" width="14.00" height="28.20" fill="#4DBBD5"/>
<rect x="432.00" y="946.80" width="14.00" height="23.40" fill="#DC0000"/>
<rect x="446.00" y="912.90" width="11.00" height="57.30" fill="#3C5488"/>
<rect x="446.00" y="949.90" width="11.00" height="20.30" fill="#4DBBD5"/>
<rect x="446.00" y="953.80" width="11.00" height="16.40" fill="#DC0000"/>
<rect x="457.00" y="905.60" width="13.00" height="64.60" fill="#3C5488"/>
<rect x="457.00" y="946.80" width="13.00" height="23.40" fill="#4DBBD5"/>
<rect x="457.00" y="950.30" width="13.00" height="19.90" fill="#DC0000"/>
<rect x="470.00" y="902.10" width="14.00" height="68.10" fill="#3C5488"/>
<rect x="470.00" y="950.60" width="14.00" height="19.60" fill="#DC0000"/>
<rect x="484.00" y="940.90" width="13.00" height="29.30" fill="#3C5488"/>
<rect x="484.00" y="952.70" width="13.00" height="17.50" fill="#DC0000"/>
<rect x="497.00" y="947.00" width="13.00" height="23.20" fill="#3C5488"/>
<rect x="497.00" y="954.70" width="13.00" height="15.50" fill="#4DBBD5"/>
<rect x="497.00" y="955.80" width="13.00" height="14.40" fill="#DC0000"/>
<rect x="510.00" y="956.80" width="12.00" height="13.40" fill="#3C5488"/>
<rect x="510.00" y="963.50" width="12.00" height="6.70" fill="#4DBBD5"/>
<rect x="510.00" y="964.30" width="12.00" height="5.90" fill="#DC0000"/>
<rect x="522.00" y="958.70" width="13.00" height="11.50" fill="#3C5488"/>
<rect x="522.00" y="966.40" width="13.00" height="3.80" fill="#DC0000"/>
<rect x="535.00" y="963.90" width="13.00" height="6.30" fill="#3C5488"/>
<rect x="535.00" y="966.80" width="13.00" height="3.40" fill="#DC0000"/>
<rect x="548.00" y="967.10" width="12.00" height="3.10" fill="#3C5488"/>
<rect x="548.00" y="968.00" width="12.00" height="2.20" fill="#DC0000"/>
<rect x="560.00" y="967.80" width="12.00" height="2.40" fill="#4DBBD5"/>
<rect x="560.00" y="969.60" width="12.00" height="0.60" fill="#DC0000"/>
<rect x="572.00" y="966.90" width="14.00" height="3.30" fill="#DC0000"/>
<rect x="586.00" y="969.00" width="12.00" height="1.20" fill="#8491B4"/>
<rect x="598.00" y="969.00" width="12.00" height="1.20" fill="#DC0000"/>
<rect x="610.00" y="966.10" width="13.00" height="4.10" fill="#3C5488"/>
<rect x="610.00" y="966.80" width="13.00" height="3.40" fill="#DC0000"/>
<rect x="623.00" y="958.70" width="14.00" height="11.50" fill="#3C5488"/>
<rect x="623.00" y="960.70" width="14.00" height="9.50" fill="#DC0000"/>
<rect x="637.00" y="965.20" width="11.00" height="5.00" fill="#3C5488"/>
<rect x="637.00" y="965.80" width="11.00" height="4.40" fill="#DC0000"/>
<rect x="648.00" y="952.90" width="14.00" height="17.30" fill="#3C5488"/>
<rect x="648.00" y="955.70" width="14.00" height="14.50" fill="#4DBBD5"/>
<rect x="648.00" y="956.90" width="14.00" height="13.30" fill="#DC0000"/>
<rect x="662.00" y="968.20" width="12.00" height="2.00" fill="#DC0000"/>
<line x1="395.60" y1="970.20" x2="395.60" y2="834.40" stroke="#000" stroke-width="2.6" stroke-dasharray="9.6 10.4"/>
<text transform="translate(125.40 849.10) scale(1 1.08)" x="0" y="0" font-size="12.9" font-weight="bold" fill="#000" text-anchor="start" textLength="158.3" lengthAdjust="spacingAndGlyphs">Delta Predominant Period</text>
<text transform="translate(472.50 849.10) scale(1 1.08)" x="0" y="0" font-size="12.9" font-weight="bold" fill="#000" text-anchor="start" textLength="179.5" lengthAdjust="spacingAndGlyphs">Omicron Predominant Period</text>
<rect x="63.80" y="834.40" width="610.40" height="135.80" fill="none" stroke="#6b6b6b" stroke-width="1"/>
<line x1="60.20" y1="864.50" x2="63.80" y2="864.50" stroke="#333333" stroke-width="1.1"/>
<text transform="translate(57.50 869.70) scale(1 1.05)" x="0" y="0" font-size="13.6" font-weight="normal" fill="#4D4D4D" text-anchor="end">600</text>
<line x1="60.20" y1="899.80" x2="63.80" y2="899.80" stroke="#333333" stroke-width="1.1"/>
<text transform="translate(57.50 905.00) scale(1 1.05)" x="0" y="0" font-size="13.6" font-weight="normal" fill="#4D4D4D" text-anchor="end">400</text>
<line x1="60.20" y1="935.00" x2="63.80" y2="935.00" stroke="#333333" stroke-width="1.1"/>
<text transform="translate(57.50 940.20) scale(1 1.05)" x="0" y="0" font-size="13.6" font-weight="normal" fill="#4D4D4D" text-anchor="end">200</text>
<line x1="60.20" y1="970.20" x2="63.80" y2="970.20" stroke="#333333" stroke-width="1.1"/>
<text transform="translate(57.50 975.40) scale(1 1.05)" x="0" y="0" font-size="13.6" font-weight="normal" fill="#4D4D4D" text-anchor="end">0</text>
<line x1="95.50" y1="970.20" x2="95.50" y2="974.00" stroke="#333333" stroke-width="1.1"/>
<text transform="translate(95.50 986.60) scale(1 1.05)" x="0" y="0" font-size="13.6" font-weight="normal" fill="#4D4D4D" text-anchor="middle">Jul</text>
<line x1="262.60" y1="970.20" x2="262.60" y2="974.00" stroke="#333333" stroke-width="1.1"/>
<text transform="translate(262.60 986.60) scale(1 1.05)" x="0" y="0" font-size="13.6" font-weight="normal" fill="#4D4D4D" text-anchor="middle">Oct</text>
<line x1="429.90" y1="970.20" x2="429.90" y2="974.00" stroke="#333333" stroke-width="1.1"/>
<text transform="translate(429.90 986.60) scale(1 1.05)" x="0" y="0" font-size="13.6" font-weight="normal" fill="#4D4D4D" text-anchor="middle">Jan</text>
<line x1="593.40" y1="970.20" x2="593.40" y2="974.00" stroke="#333333" stroke-width="1.1"/>
<text transform="translate(593.40 986.60) scale(1 1.05)" x="0" y="0" font-size="13.6" font-weight="normal" fill="#4D4D4D" text-anchor="middle">Apr</text>
<text transform="translate(19.1 902.60) rotate(-90) scale(1 1.05)" x="0" y="0" font-size="17.4" text-anchor="middle" fill="#000" textLength="162.4" lengthAdjust="spacingAndGlyphs">Number of Infections</text>
<text transform="translate(368.80 1005.00) scale(1 1.05)" x="0" y="0" font-size="17.4" font-weight="normal" fill="#000" text-anchor="middle" textLength="120.6" lengthAdjust="spacingAndGlyphs">Collection Date</text>
</svg>
</body></html>
